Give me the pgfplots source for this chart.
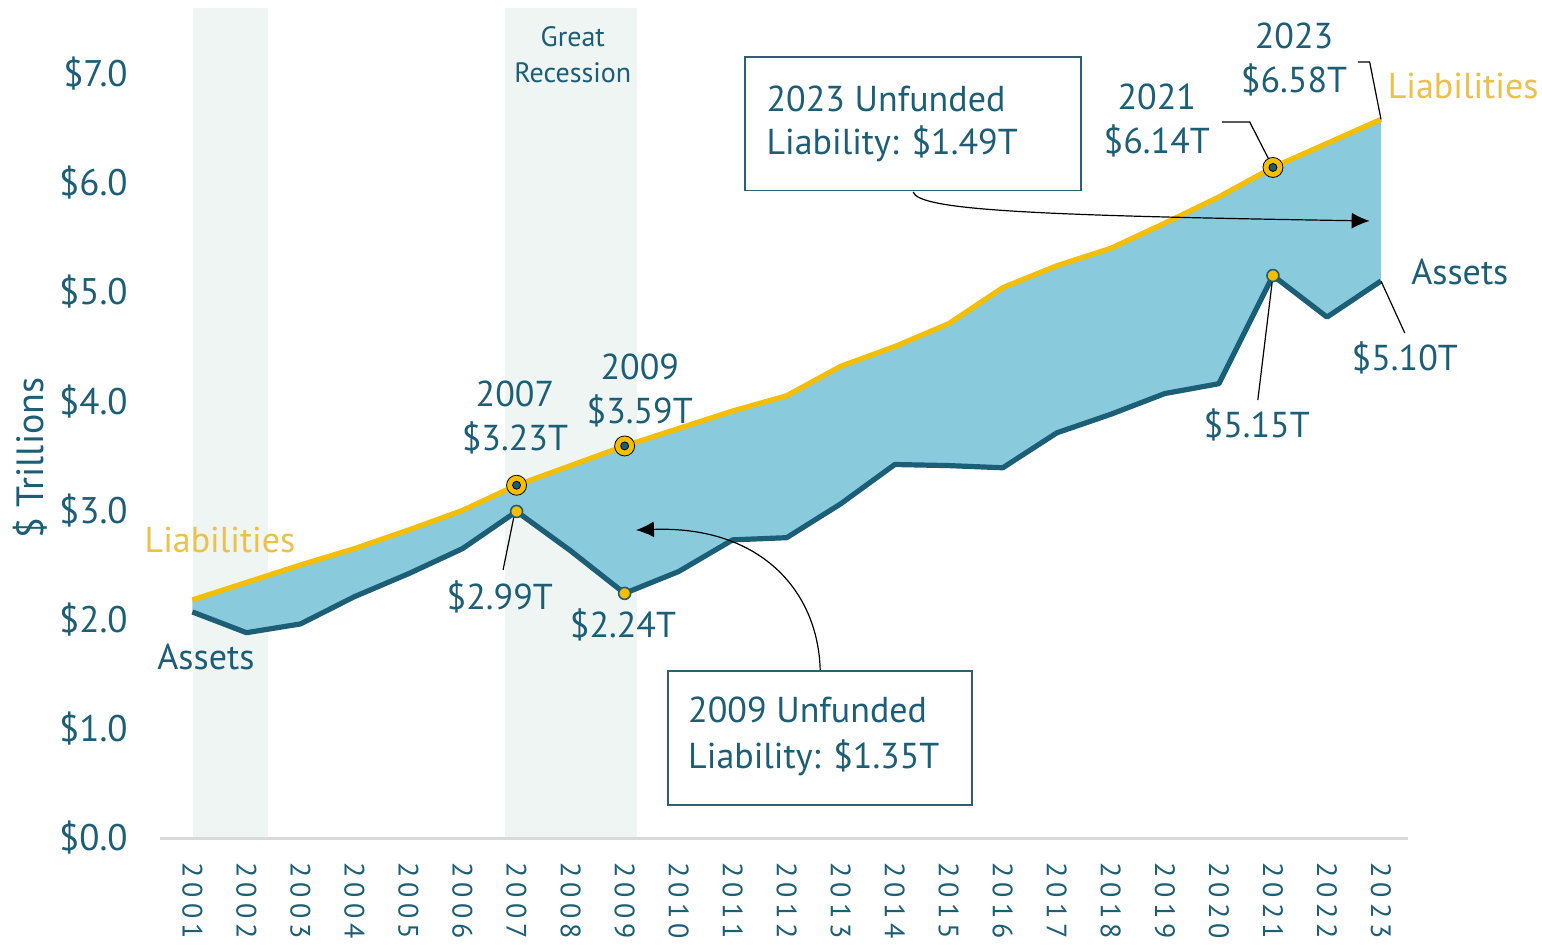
\documentclass[border=0pt]{standalone}
\usepackage{fontspec}
\setmainfont{PT Sans}
\newfontfamily\xfont[LetterSpace=18]{PT Sans}
\usepackage{pgfplots}
\pgfplotsset{compat=1.18}
\usepgfplotslibrary{fillbetween}
\usetikzlibrary{arrows.meta}
\definecolor{teal}{HTML}{1B5E75}
\definecolor{yel}{HTML}{F5BE00}
\definecolor{yellab}{HTML}{EDC04A}
\definecolor{fillb}{HTML}{89CBDD}
\definecolor{band}{HTML}{EFF5F3}
\definecolor{axgray}{HTML}{D9D9D9}
\definecolor{boxc}{HTML}{2E5F73}
\pgfplotstableread{
year L A
2001 2.18 2.07
2002 2.34 1.88
2003 2.50 1.96
2004 2.65 2.21
2005 2.82 2.42
2006 3.00 2.65
2007 3.23 2.99
2008 3.41 2.63
2009 3.59 2.24
2010 3.75 2.44
2011 3.91 2.73
2012 4.05 2.75
2013 4.32 3.06
2014 4.50 3.42
2015 4.71 3.41
2016 5.04 3.39
2017 5.24 3.71
2018 5.40 3.88
2019 5.63 4.07
2020 5.87 4.16
2021 6.14 5.15
2022 6.36 4.77
2023 6.58 5.10
}\data
\begin{document}
\begin{tikzpicture}
\begin{axis}[
  set layers,
  at={(0,0)}, anchor=south west,
  scale only axis, width=624pt, height=415pt,
  xmin=2000.4, xmax=2023.5, ymin=0, ymax=7.6,
  clip=false,
  axis x line=bottom, axis y line=left,
  x axis line style={draw=axgray, line width=1.5pt, -},
  y axis line style={draw=none},
  major tick length=0pt,
  xtick={2001,...,2023},
  xticklabels={2001,2002,2003,2004,2005,2006,2007,2008,2009,2010,2011,2012,2013,2014,2015,2016,2017,2018,2019,2020,2021,2022,2023},
  ytick={0,1,2,3,4,5,6,7},
  yticklabels={\$0.0,\$1.0,\$2.0,\$3.0,\$4.0,\$5.0,\$6.0,\$7.0},
  yticklabel style={font=\fontsize{18.5}{22}\selectfont, text=teal, inner sep=0pt, anchor=east, xshift=-16pt},
  xticklabel style={font=\xfont\fontsize{14}{16}\selectfont, text=teal, inner sep=0pt, yshift=-12pt, rotate=-90, anchor=west},
  every axis plot/.append style={line join=round},
]
% recession bands
\begin{pgfonlayer}{axis background}
\fill[band] (axis cs:2001.01,0) rectangle (axis cs:2002.39,7.6);
\fill[band] (axis cs:2006.79,0) rectangle (axis cs:2009.23,7.6);
\end{pgfonlayer}
\node[font=\fontsize{14}{18}\selectfont, text=teal, align=center] at (axis cs:2008.04,7.17) {Great\\Recession};

\addplot[name path=L, draw=none, forget plot] table[x=year,y=L]{\data};
\addplot[name path=A, draw=none, forget plot] table[x=year,y=A]{\data};
\addplot[fill=fillb, draw=none] fill between[of=L and A];
\addplot[yel, line width=2.6pt] table[x=year,y=L]{\data};
\addplot[teal, line width=2.6pt] table[x=year,y=A]{\data};

% markers
\addplot[only marks, mark=*, mark size=5pt, mark options={fill=yel, draw=none}] coordinates {(2007,3.23) (2009,3.59) (2021,6.14)};
\addplot[only marks, mark=*, mark size=2pt, mark options={fill=teal, draw=none}] coordinates {(2007,3.23) (2009,3.59) (2021,6.14)};
\addplot[only marks, mark=*, mark size=3pt, mark options={fill=yel, draw=teal, line width=0.8pt}] coordinates {(2007,2.99) (2009,2.24) (2021,5.15)};

% leader lines
\draw[black, line width=0.6pt] (axis cs:2006.97,2.99) -- (axis cs:2006.75,2.454);
\draw[black, line width=0.6pt] (axis cs:2021,6.14) -- (axis cs:2020.57,6.556) -- (axis cs:2020.06,6.556);
\draw[black, line width=0.6pt] (axis cs:2023,6.58) -- (axis cs:2022.79,7.106) -- (axis cs:2022.57,7.106);
\draw[black, line width=0.6pt] (axis cs:2023,5.10) -- (axis cs:2023.44,4.624);
\draw[black, line width=0.6pt] (axis cs:2021,5.15) -- (axis cs:2020.72,4.01);

% text labels
\tikzset{lab/.style={font=\fontsize{18}{22}\selectfont, text=teal, align=center, inner sep=0pt}}
\node[lab, text=yellab] at (axis cs:2001.51,2.73) {Liabilities};
\node[lab] at (axis cs:2001.25,1.66) {Assets};
\node[lab] at (axis cs:2006.97,3.85) {2007\\\$3.23T};
\node[lab] at (axis cs:2009.28,4.10) {2009\\\$3.59T};
\node[lab] at (axis cs:2006.69,2.21) {\$2.99T};
\node[lab] at (axis cs:2008.97,1.95) {\$2.24T};
\node[lab] at (axis cs:2018.85,6.57) {2021\\\$6.14T};
\node[lab] at (axis cs:2021.39,7.13) {2023\\\$6.58T};
\node[lab, text=yellab] at (axis cs:2024.52,6.89) {Liabilities};
\node[lab] at (axis cs:2024.46,5.18) {Assets};
\node[lab] at (axis cs:2023.44,4.40) {\$5.10T};
\node[lab] at (axis cs:2020.70,3.78) {\$5.15T};
\node[lab, rotate=90, font=\fontsize{19}{22}\selectfont] at (axis cs:1997.99,3.48) {\$ Trillions};

% boxes
\draw[boxc, line width=0.8pt, fill=white] (axis cs:2011.23,7.15) rectangle (axis cs:2017.45,5.93);
\node[lab, align=left, anchor=west, font=\fontsize{18}{21.5}\selectfont] at (axis cs:2011.62,6.54) {2023 Unfunded\\Liability: \$1.49T};
\draw[boxc, line width=0.8pt, fill=white] (axis cs:2009.80,1.529) rectangle (axis cs:2015.43,0.302);
\node[lab, align=left, anchor=west, font=\fontsize{18}{23}\selectfont] at (axis cs:2010.17,0.934) {2009 Unfunded\\Liability: \$1.35T};

% arrows
\draw[black, line width=0.6pt, -{Latex[length=9pt,width=8pt]}] (axis cs:2014.34,5.915) .. controls (axis cs:2014.45,5.75) and (axis cs:2016.5,5.70) .. (axis cs:2022.79,5.65);
\draw[black, line width=0.6pt, -{Latex[length=9pt,width=8pt]}] (axis cs:2012.62,1.538) .. controls (axis cs:2012.58,2.27) and (axis cs:2011.5,2.86) .. (axis cs:2009.21,2.82);
\end{axis}
\pgfresetboundingbox
\path[use as bounding box] (-80pt,-53pt) rectangle (691pt,419pt);
\end{tikzpicture}
\end{document}
